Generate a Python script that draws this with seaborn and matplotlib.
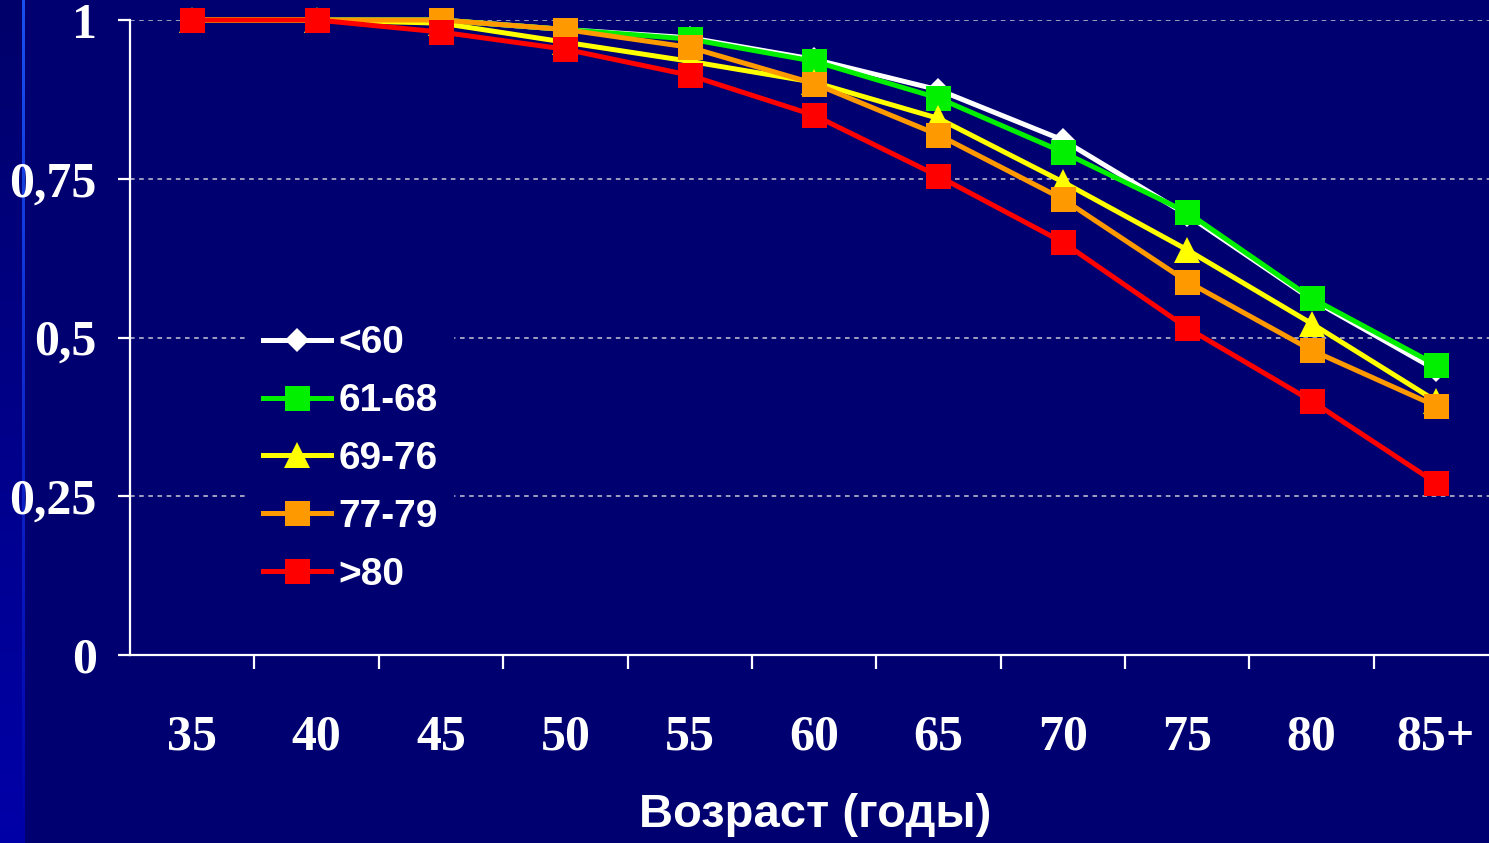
import numpy as np
import pandas as pd
import matplotlib
matplotlib.use("Agg")
import matplotlib.pyplot as plt
from matplotlib.colors import LinearSegmentedColormap
import seaborn as sns

# ---- data ----
ages = ["35", "40", "45", "50", "55", "60", "65", "70", "75", "80", "85+"]
series_names = ["<60", "61-68", "69-76", "77-79", ">80"]
lt60 = [1.0, 1.0, 1.0, 0.985, 0.972, 0.938, 0.890, 0.811, 0.693, 0.560, 0.449]
g61_68 = [1.0, 1.0, 1.0, 0.985, 0.970, 0.935, 0.877, 0.792, 0.697, 0.562, 0.457]
g69_76 = [1.0, 1.0, 0.995, 0.965, 0.935, 0.902, 0.845, 0.745, 0.638, 0.522, 0.400]
g77_79 = [1.0, 1.0, 1.0, 0.985, 0.957, 0.900, 0.819, 0.718, 0.588, 0.480, 0.392]
gt80 = [1.0, 1.0, 0.981, 0.954, 0.913, 0.850, 0.754, 0.650, 0.515, 0.400, 0.271]
y_ticks = [0, 0.25, 0.5, 0.75, 1]
y_tick_labels = ["0", "0,25", "0,5", "0,75", "1"]
x_label = "Возраст (годы)"

values = [lt60, g61_68, g69_76, g77_79, gt80]
colors = ["#ffffff", "#00f000", "#ffff00", "#ff9900", "#ff0000"]
markers = ["D", "s", "^", "s", "s"]
msizes = [12.5, 18, 19, 18, 18]

bg = "#000070"
W, H = 1489, 843

fig = plt.figure(figsize=(W / 100, H / 100), dpi=100)
fig.patch.set_facecolor(bg)

# left gradient stripe
sax = fig.add_axes([0, 0, 22 / W, 1])
grad = np.linspace(0, 1, 256).reshape(-1, 1)
cm1 = LinearSegmentedColormap.from_list("s", ["#00006a", "#0000a8"])
sax.imshow(grad, aspect="auto", cmap=cm1, extent=[0, 1, 0, 1], origin="upper")
sax.axis("off")
lax = fig.add_axes([22 / W, 0, 3 / W, 1])
cm2 = LinearSegmentedColormap.from_list("l", ["#1a50f0", "#0000a8"])
lax.imshow(grad, aspect="auto", cmap=cm2, extent=[0, 1, 0, 1], origin="upper")
lax.axis("off")

ax = fig.add_axes([130 / W, 1 - 655 / H, 1 - 130 / W, (655 - 20) / H])
ax.set_facecolor(bg)

idx = np.arange(len(ages))
for i, (name, vals, c, m, ms) in enumerate(zip(series_names, values, colors, markers, msizes)):
    df = pd.DataFrame({"x": idx, "y": vals})
    sns.lineplot(data=df, x="x", y="y", ax=ax, color=c, marker=m, markersize=ms,
                 markeredgewidth=0, linewidth=3.6, clip_on=False, zorder=3 + i,
                 label=name, legend=False)

for line in ax.get_lines():
    line.set_clip_on(False)

ax.set_xlim(-0.5, 10 + 53 / 124.4)
ax.set_ylim(0, 1)

# grid
for yv in y_ticks[1:]:
    ax.axhline(yv, color="#c8c8d8", linewidth=1.1, linestyle=(0, (3, 3)), zorder=1)

for s in ["top", "right"]:
    ax.spines[s].set_visible(False)
for s in ["left", "bottom"]:
    ax.spines[s].set_color("white")
    ax.spines[s].set_linewidth(1.6)
ax.spines["bottom"].set_zorder(10)

ax.set_yticks(y_ticks)
ax.set_yticklabels(y_tick_labels)
ax.tick_params(axis="y", direction="out", length=9, width=1.6, colors="white", pad=15)
for t in ax.get_yticklabels():
    t.set_fontfamily("Liberation Serif")
    t.set_fontweight("bold")
    t.set_fontsize(36)

ax.set_xticks(idx[:-1] + 0.5)
ax.set_xticklabels([])
ax.tick_params(axis="x", which="major", direction="out", length=10, width=1.6, colors="white")
ax.set_xticks(idx, minor=True)
ax.set_xticklabels(ages, minor=True)
ax.tick_params(axis="x", which="minor", length=0, pad=43, colors="white")
for t in ax.get_xticklabels(minor=True):
    t.set_fontfamily("Liberation Serif")
    t.set_fontweight("bold")
    t.set_fontsize(36)

ax.set_xlabel("")
ax.set_ylabel("")
fig.text(815 / W, 1 - 815 / H, x_label, color="white", fontsize=34, fontweight="bold",
         family=["Liberation Sans"], ha="center", va="center")

leg = ax.legend(loc="center left", bbox_to_anchor=(247 / W, 1 - 459 / H),
                bbox_transform=fig.transFigure, borderaxespad=0, frameon=True,
                facecolor=bg, edgecolor=bg, framealpha=1, fancybox=False,
                handlelength=1.75, handletextpad=0.2, labelspacing=0.56,
                prop={"family": "Liberation Sans", "weight": "bold", "size": 28})
for txt in leg.get_texts():
    txt.set_color("white")
leg.set_zorder(2)

fig.savefig("out.png", dpi=100, facecolor=bg)
